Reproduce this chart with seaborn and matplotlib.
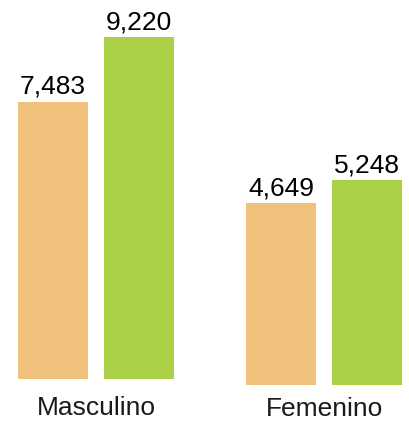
import matplotlib
matplotlib.use("Agg")
import matplotlib.pyplot as plt
import seaborn as sns
import pandas as pd

categories = ["Masculino", "Femenino"]
series = ["A", "B"]
values_a = [7483, 4649]
values_b = [9220, 5248]
colors = ["#F0C17A", "#AAD048"]

df = pd.DataFrame({
    "cat": categories * 2,
    "serie": [series[0]] * 2 + [series[1]] * 2,
    "val": values_a + values_b,
})

sns.set_theme(style="white")
plt.rcParams["font.family"] = ["Liberation Sans", "DejaVu Sans"]

W, H = 410, 422
fig = plt.figure(figsize=(W / 100, H / 100), dpi=100)

# per-panel layout: (center px, baseline px, px per unit, tick pad)
panels = [
    (96, 379, 0.03706, 12.5),
    (324, 385, 0.0391, 8.5),
]
half = 0.38
unit_px = 215.0
for cat, (cx, base, scale, pad) in zip(categories, panels):
    wpx = 2 * half * unit_px
    ax = fig.add_axes([(cx - wpx / 2) / W, (H - base) / H, wpx / W, base / H])
    sub = df[df["cat"] == cat]
    sns.barplot(data=sub, x="cat", y="val", hue="serie", hue_order=series,
                palette=colors, width=0.8, gap=0.186, legend=False, ax=ax,
                saturation=1, errorbar=None, linewidth=0)
    ax.set_xlim(-half, half)
    ax.set_ylim(0, base / scale)
    for cont in ax.containers:
        ax.bar_label(cont, labels=[f"{v:,.0f}" for v in cont.datavalues],
                     padding=2, fontsize=19, color="black")
    ax.set_xlabel("")
    ax.set_ylabel("")
    ax.set_yticks([])
    ax.tick_params(axis="x", length=0, pad=pad, labelsize=19, labelcolor="#1a1a1a")
    for s in ax.spines.values():
        s.set_visible(False)
    ax.patch.set_alpha(0)

fig.savefig("out.png", dpi=100)
